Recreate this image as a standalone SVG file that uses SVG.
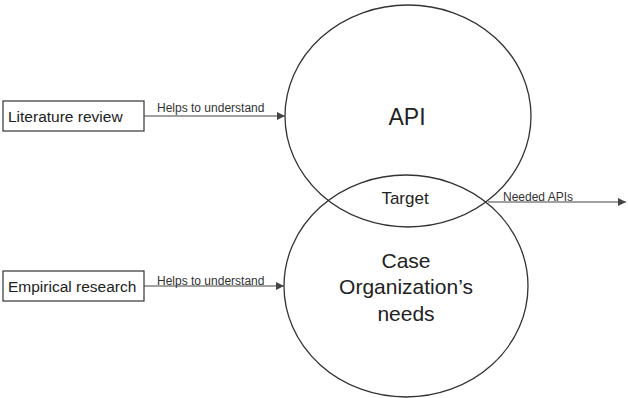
<svg xmlns="http://www.w3.org/2000/svg" width="628" height="398" viewBox="0 0 628 398">
<style>
.box{fill:#fff;stroke:#333;stroke-width:1.2}
.ell{fill:none;stroke:#333;stroke-width:1.3}
.ln{stroke:#444;stroke-width:1.2;fill:none}
.t{font-family:"Liberation Sans",Arial,sans-serif;fill:#222}
.s{font-family:"Liberation Sans",Arial,sans-serif;fill:#333;font-size:12px}
</style>
<defs>
<marker id="ah" viewBox="0 0 10 10" refX="10" refY="5" markerWidth="8" markerHeight="8" markerUnits="userSpaceOnUse" orient="auto">
<path d="M0,0 L10,5 L0,10 z" fill="#444"/>
</marker>
</defs>
<rect width="628" height="398" fill="#fff"/>
<g id="api">
<ellipse class="ell" cx="408" cy="116" rx="123" ry="111"/>
<text class="t" x="407" y="125" font-size="23" text-anchor="middle">API</text>
</g>
<g id="needs">
<ellipse class="ell" cx="406" cy="286" rx="122" ry="111"/>
<text class="t" x="406" y="268" font-size="21" text-anchor="middle">Case</text>
<text class="t" x="406" y="294" font-size="21" text-anchor="middle">Organization’s</text>
<text class="t" x="406" y="321" font-size="21" text-anchor="middle">needs</text>
</g>
<g id="target">
<text class="t" x="405" y="204" font-size="17" text-anchor="middle" fill="#333">Target</text>
</g>
<g id="lit">
<rect class="box" x="3" y="101" width="141" height="30"/>
<text class="t" x="8" y="122" font-size="15.5">Literature review</text>
</g>
<g id="emp">
<rect class="box" x="3" y="271" width="141" height="30"/>
<text class="t" x="8" y="292" font-size="15.5">Empirical research</text>
</g>
<g id="connectors">
<line class="ln" x1="144" y1="116" x2="285" y2="116" marker-end="url(#ah)"/>
<text class="s" x="157" y="112">Helps to understand</text>
<line class="ln" x1="144" y1="286" x2="284" y2="286" marker-end="url(#ah)"/>
<text class="s" x="157" y="285">Helps to understand</text>
<line class="ln" x1="488" y1="202" x2="626" y2="202" marker-end="url(#ah)"/>
<text class="s" x="503" y="201">Needed APIs</text>
</g>
</svg>
